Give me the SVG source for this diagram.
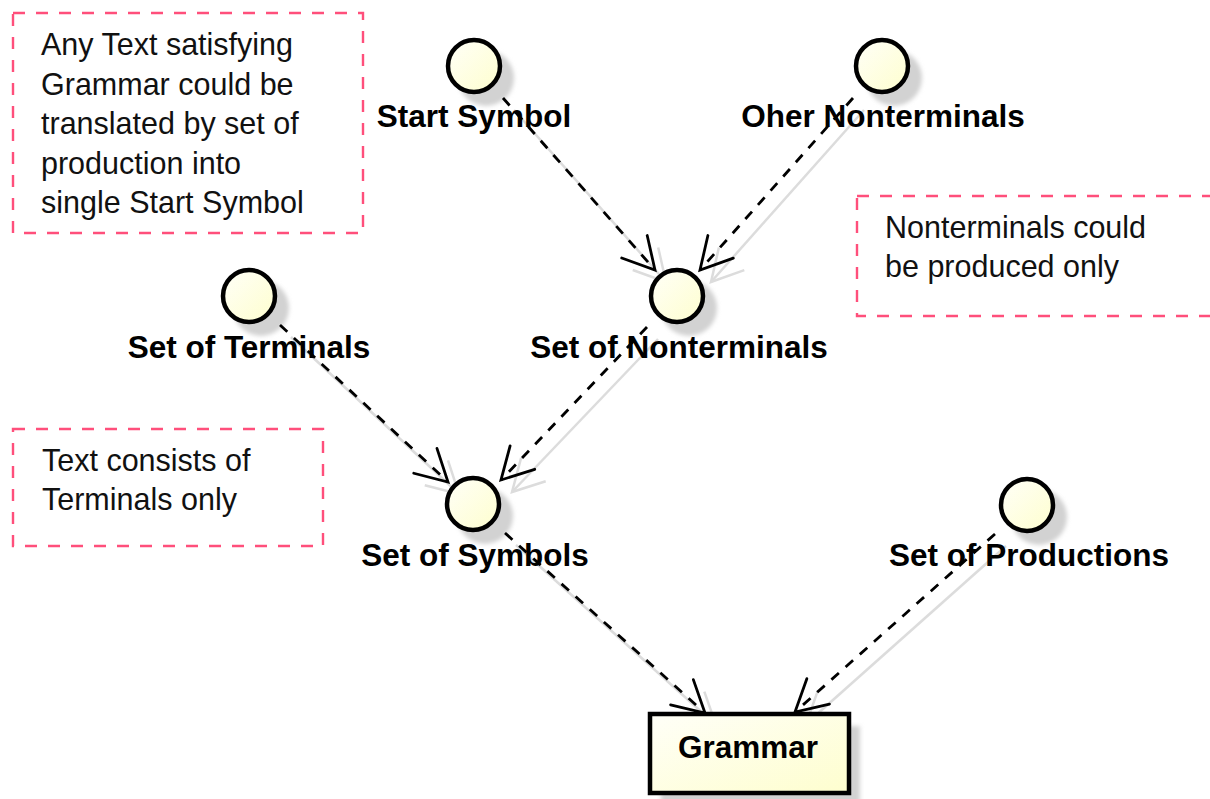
<svg xmlns="http://www.w3.org/2000/svg" width="1210" height="799" viewBox="0 0 1210 799">
<style>
.note{fill:#fff;stroke:#FF4F7B;stroke-width:2.4;stroke-dasharray:12,11}
.nt{font-family:"Liberation Sans",Arial,sans-serif;font-size:30.5px;fill:#111}
.lbl{font-family:"Liberation Sans",Arial,sans-serif;font-size:31.5px;font-weight:bold;fill:#000;text-anchor:middle}
.circ{fill:url(#g);stroke:#000;stroke-width:4.5}
.sh{fill:#d2d2d2;filter:url(#blur)}
.ln{fill:none;stroke:#000;stroke-width:2.8;stroke-dasharray:10,9;marker-end:url(#arr)}
.lsh{fill:none;stroke:#dcdcdc;stroke-width:2.5;marker-end:url(#arrs)}
</style>
<defs>
<linearGradient id="g" x1="0" y1="0" x2="1" y2="1">
<stop offset="0" stop-color="#FFFFF8"/>
<stop offset="1" stop-color="#FEFECE"/>
</linearGradient>
<filter id="blur" x="-30%" y="-30%" width="160%" height="160%"><feGaussianBlur stdDeviation="2"/></filter>
<marker id="arr" markerUnits="userSpaceOnUse" markerWidth="40" markerHeight="40" viewBox="-36 -20 40 40" refX="0" refY="0" orient="auto" overflow="visible">
<path d="M-31,-17 L0,0 L-31,17" fill="none" stroke="#000" stroke-width="2.8" stroke-linecap="round" stroke-linejoin="miter"/>
</marker>
<marker id="arrs" markerUnits="userSpaceOnUse" markerWidth="40" markerHeight="40" viewBox="-36 -20 40 40" refX="0" refY="0" orient="auto" overflow="visible">
<path d="M-31,-17 L0,0 L-31,17" fill="none" stroke="#dcdcdc" stroke-width="2.5"/>
</marker>
</defs>
<rect width="1210" height="799" fill="#fff"/>

<g id="note-start">
<rect class="note" x="13" y="13" width="350" height="220"/>
<text class="nt" x="41" y="55">Any Text satisfying</text>
<text class="nt" x="41" y="95">Grammar could be</text>
<text class="nt" x="41" y="134">translated by set of</text>
<text class="nt" x="41" y="174">production into</text>
<text class="nt" x="41" y="213">single Start Symbol</text>
</g>
<g id="note-nonterminals">
<rect class="note" x="857" y="196" width="370" height="120"/>
<text class="nt" x="885" y="238">Nonterminals could</text>
<text class="nt" x="885" y="277">be produced only</text>
</g>
<g id="note-terminals">
<rect class="note" x="13" y="429" width="310" height="117"/>
<text class="nt" x="42" y="471">Text consists of</text>
<text class="nt" x="42" y="510">Terminals only</text>
</g>

<g id="shadows">
<circle class="sh" cx="486" cy="78" r="28"/>
<circle class="sh" cx="894" cy="78" r="28"/>
<circle class="sh" cx="689" cy="308" r="28"/>
<circle class="sh" cx="261" cy="308" r="28"/>
<circle class="sh" cx="485" cy="516" r="28"/>
<circle class="sh" cx="1039" cy="517" r="28"/>
<rect class="sh" x="661" y="726" width="199" height="79"/>
<path class="lsh" d="M514,110 L666,282"/>
<path class="lsh" d="M864,110 L711,282"/>
<path class="lsh" d="M291,337 L459,494"/>
<path class="lsh" d="M658,339 L512,492"/>
<path class="lsh" d="M516,545 L716,725"/>
<path class="lsh" d="M1006,546 L806,724"/>
</g>

<g id="start-symbol">
<circle class="circ" cx="474" cy="66" r="26"/>
<text class="lbl" x="474" y="127">Start Symbol</text>
</g>
<g id="oher-nonterminals">
<circle class="circ" cx="882" cy="66" r="26"/>
<text class="lbl" x="883" y="127">Oher Nonterminals</text>
</g>
<g id="set-of-nonterminals">
<circle class="circ" cx="677" cy="296" r="26"/>
<text class="lbl" x="679" y="358">Set of Nonterminals</text>
</g>
<g id="set-of-terminals">
<circle class="circ" cx="249" cy="296" r="26"/>
<text class="lbl" x="249" y="358">Set of Terminals</text>
</g>
<g id="set-of-symbols">
<circle class="circ" cx="473" cy="504" r="26"/>
<text class="lbl" x="475" y="566">Set of Symbols</text>
</g>
<g id="set-of-productions">
<circle class="circ" cx="1027" cy="505" r="26"/>
<text class="lbl" x="1029" y="566">Set of Productions</text>
</g>
<g id="grammar">
<rect x="650" y="714" width="199" height="79" fill="url(#g)" stroke="#000" stroke-width="4.5"/>
<text class="lbl" x="748" y="758" style="font-size:31.5px">Grammar</text>
</g>

<g id="connectors">
<path class="ln" d="M503,98 L655,270"/>
<path class="ln" d="M853,98 L700,270"/>
<path class="ln" d="M280,325 L448,482"/>
<path class="ln" d="M647,327 L501,480"/>
<path class="ln" d="M505,533 L705,713"/>
<path class="ln" d="M995,534 L795,712"/>
</g>
</svg>
